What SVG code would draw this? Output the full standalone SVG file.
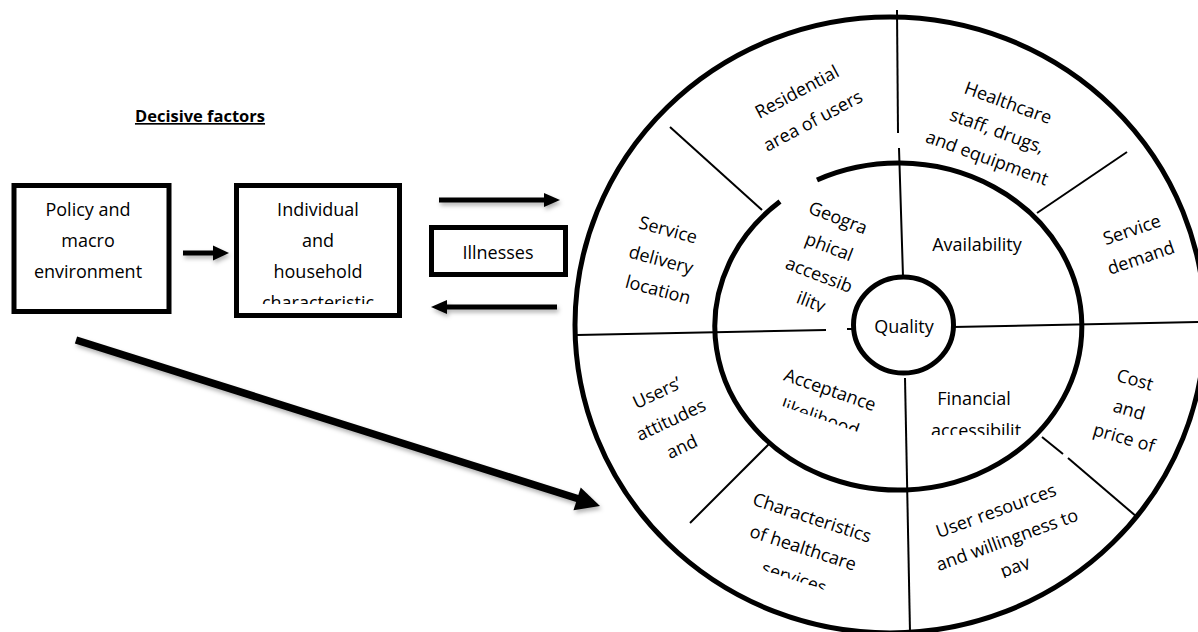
<svg xmlns="http://www.w3.org/2000/svg" width="1198" height="632" viewBox="0 0 1198 632">
<defs>
<style>
.box{fill:#fff;stroke:#000;stroke-width:5}
.t{font-family:"Open Sans","Liberation Sans",sans-serif;font-size:18px;fill:#000;text-anchor:middle}
.ring{fill:none;stroke:#000;stroke-width:5}
.dv{stroke:#000;stroke-width:2;fill:none}
.shaft{stroke:#000;stroke-width:5}
</style>
<filter id="sh" filterUnits="userSpaceOnUse" x="0" y="0" width="1198" height="632">
<feDropShadow dx="1.5" dy="3" stdDeviation="2" flood-color="#000" flood-opacity="0.3"/>
</filter>
<clipPath id="cChar" clipPathUnits="userSpaceOnUse"><rect x="230" y="180" width="180" height="124"/></clipPath>
<clipPath id="cAcc" clipPathUnits="userSpaceOnUse"><rect x="880" y="400" width="200" height="35"/></clipPath>
<clipPath id="cServ" clipPathUnits="userSpaceOnUse"><rect x="-200" y="-100" width="400" height="102"/></clipPath>
<clipPath id="cPay" clipPathUnits="userSpaceOnUse"><rect x="-200" y="-100" width="400" height="107"/></clipPath>
<clipPath id="cIlity" clipPathUnits="userSpaceOnUse"><rect x="-200" y="-100" width="400" height="107"/></clipPath>
<clipPath id="cLike" clipPathUnits="userSpaceOnUse"><rect x="-200" y="-100" width="400" height="101"/></clipPath>
</defs>
<rect width="1198" height="632" fill="#fff"/>

<g id="title">
<text x="200" y="122" style="font-family:'Open Sans','Liberation Sans',sans-serif;font-size:16.5px;font-weight:bold;text-anchor:middle;text-decoration:underline">Decisive factors</text>
</g>

<g id="node-policy">
<rect class="box" x="14" y="185.5" width="155" height="126"/>
<text class="t" x="88" y="216">Policy and</text>
<text class="t" x="88" y="247">macro</text>
<text class="t" x="88" y="278">environment</text>
</g>

<g id="node-individual">
<rect class="box" x="236.5" y="185.5" width="163" height="130"/>
<text class="t" x="318" y="216">Individual</text>
<text class="t" x="318" y="247">and</text>
<text class="t" x="318" y="278">household</text>
<text class="t" x="318" y="309" clip-path="url(#cChar)">characteristic</text>
</g>

<g id="node-illnesses">
<rect class="box" x="431.5" y="227.5" width="134" height="47"/>
<text class="t" x="498" y="258.5">Illnesses</text>
</g>

<g id="wheel">
<ellipse class="ring" cx="890" cy="325" rx="315" ry="308"/>
<path class="ring" d="M 817 180 A 183.5 163.5 0 1 1 780 201.6"/>
<ellipse class="ring" cx="903.5" cy="325" rx="50" ry="48" stroke-width="4.5"/>
<line class="dv" x1="897" y1="10" x2="898" y2="133"/>
<line class="dv" x1="899" y1="148" x2="903" y2="276"/>
<line class="dv" x1="905" y1="378" x2="910" y2="632"/>
<line class="dv" x1="577" y1="335" x2="826" y2="330"/>
<line class="dv" x1="847" y1="329" x2="854" y2="329"/>
<line class="dv" x1="953" y1="327" x2="1198" y2="322"/>
<line class="dv" x1="670" y1="127" x2="762" y2="210"/>
<line class="dv" x1="1037" y1="213" x2="1127" y2="152"/>
<line class="dv" x1="770" y1="443" x2="690" y2="523"/>
<line class="dv" x1="1042" y1="437" x2="1063" y2="454"/>
<line class="dv" x1="1068" y1="458" x2="1137" y2="517"/>
</g>

<g id="label-quality">
<text class="t" x="904" y="333">Quality</text>
</g>
<g id="label-residential">
<text class="t" transform="translate(797 92) rotate(-28)" y="6">Residential</text>
<text class="t" transform="translate(813 121) rotate(-28)" y="6">area of users</text>
</g>
<g id="label-healthcare">
<text class="t" transform="translate(1008 103) rotate(20)" y="6">Healthcare</text>
<text class="t" transform="translate(997 131) rotate(20)" y="6">staff, drugs,</text>
<text class="t" transform="translate(987 158) rotate(20)" y="6">and equipment</text>
</g>
<g id="label-service-demand">
<text class="t" transform="translate(1132 230) rotate(-19)" y="6">Service</text>
<text class="t" transform="translate(1141 258) rotate(-19)" y="6">demand</text>
</g>
<g id="label-service-location">
<text class="t" transform="translate(668 230) rotate(15)" y="6">Service</text>
<text class="t" transform="translate(661 260) rotate(15)" y="6">delivery</text>
<text class="t" transform="translate(658 290) rotate(15)" y="6">location</text>
</g>
<g id="label-geographical">
<text class="t" transform="translate(838 218) rotate(21)" y="6">Geogra</text>
<text class="t" transform="translate(829 247) rotate(21)" y="6">phical</text>
<text class="t" transform="translate(819 275) rotate(21)" y="6">accessib</text>
<g transform="translate(811 302) rotate(21)"><text class="t" y="6" clip-path="url(#cIlity)">ility</text></g>
</g>
<g id="label-availability">
<text class="t" x="977" y="251">Availability</text>
</g>
<g id="label-acceptance">
<text class="t" transform="translate(830 390) rotate(19)" y="6">Acceptance</text>
<g transform="translate(820 418) rotate(19)"><text class="t" y="6" clip-path="url(#cLike)">likelihood</text></g>
</g>
<g id="label-financial">
<text class="t" x="974" y="405">Financial</text>
<text class="t" x="976" y="437" clip-path="url(#cAcc)">accessibilit</text>
</g>
<g id="label-users-attitudes">
<text class="t" transform="translate(657 393) rotate(-25)" y="6">Users’</text>
<text class="t" transform="translate(671 420) rotate(-25)" y="6">attitudes</text>
<text class="t" transform="translate(682 447) rotate(-25)" y="6">and</text>
</g>
<g id="label-characteristics">
<text class="t" transform="translate(812 518) rotate(18)" y="6">Characteristics</text>
<text class="t" transform="translate(803 548) rotate(18)" y="6">of healthcare</text>
<g transform="translate(794 578) rotate(18)"><text class="t" y="6" clip-path="url(#cServ)">services</text></g>
</g>
<g id="label-user-resources">
<text class="t" transform="translate(996 511) rotate(-20)" y="6">User resources</text>
<text class="t" transform="translate(1007 540) rotate(-20)" y="6">and willingness to</text>
<g transform="translate(1015 567) rotate(-20)"><text class="t" y="6" clip-path="url(#cPay)">pay</text></g>
</g>
<g id="label-cost">
<text class="t" transform="translate(1135 380) rotate(16)" y="6">Cost</text>
<text class="t" transform="translate(1129 410) rotate(16)" y="6">and</text>
<text class="t" transform="translate(1124 438) rotate(16)" y="6">price of</text>
</g>

<g id="connectors" filter="url(#sh)">
<line class="shaft" x1="183" y1="253" x2="215" y2="253"/>
<polygon points="229,253 213,245.5 213,260.5"/>
<line class="shaft" x1="439" y1="200" x2="546" y2="200"/>
<polygon points="560,200 544,193 544,207"/>
<line class="shaft" x1="557" y1="307" x2="445" y2="307"/>
<polygon points="431,307 447,300 447,314"/>
<line x1="76" y1="340" x2="579" y2="499" stroke="#000" stroke-width="7.5"/>
<polygon points="600,506 573.5,510.2 580.7,487.4"/>
</g>
</svg>
